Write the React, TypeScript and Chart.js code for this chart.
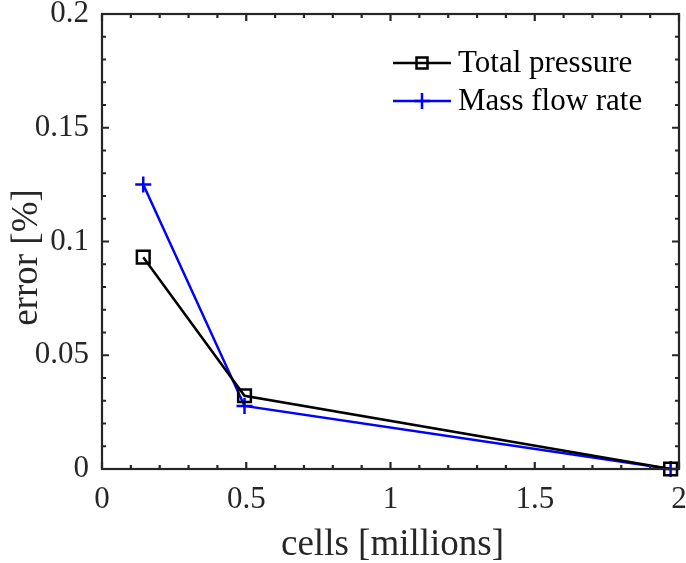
import React, { useEffect, useRef } from "react";
import { Chart, registerables } from "chart.js";

Chart.register(...registerables);

const cellsMillions = [0.143, 0.494, 1.971];
const totalPressureError = [0.0931, 0.0322, 0];
const massFlowRateError = [0.1251, 0.0277, 0];
const xTickValues = [0, 0.5, 1, 1.5, 2];
const yTickValues = [0, 0.05, 0.1, 0.15, 0.2];
const xMinorStep = 0.1;
const yMinorStep = 0.01;
const xTitle = "cells [millions]";
const yTitle = "error [%]";
const seriesNames = ["Total pressure", "Mass flow rate"];
const seriesColors = ["#000000", "#0000ff"];
const seriesMarkers = ["rect", "cross"];

const AXIS = "#262626";
const FONT = "'Liberation Serif', 'Times New Roman', serif";

const fmt = (v: number) => String(parseFloat(v.toFixed(4)));

const matlabPlugin = {
  id: "matlabAxes",
  afterDraw(chart: any) {
    const { ctx, chartArea: a, scales } = chart;
    const xs = scales.x;
    const ys = scales.y;
    ctx.save();
    ctx.strokeStyle = AXIS;
    ctx.lineWidth = 2.2;
    ctx.lineCap = "butt";
    const isMajor = (v: number, arr: number[]) => arr.some((t) => Math.abs(t - v) < 1e-9);
    const nx = Math.round((xs.max - xs.min) / xMinorStep);
    for (let i = 0; i <= nx; i++) {
      const v = xs.min + i * xMinorStep;
      const px = xs.getPixelForValue(v);
      const len = isMajor(v, xTickValues) ? 7 : 4;
      ctx.beginPath();
      ctx.moveTo(px, a.bottom);
      ctx.lineTo(px, a.bottom - len);
      ctx.moveTo(px, a.top);
      ctx.lineTo(px, a.top + len);
      ctx.stroke();
    }
    const ny = Math.round((ys.max - ys.min) / yMinorStep);
    for (let i = 0; i <= ny; i++) {
      const v = ys.min + i * yMinorStep;
      const py = ys.getPixelForValue(v);
      const len = isMajor(v, yTickValues) ? 7 : 4;
      ctx.beginPath();
      ctx.moveTo(a.left, py);
      ctx.lineTo(a.left + len, py);
      ctx.moveTo(a.right, py);
      ctx.lineTo(a.right - len, py);
      ctx.stroke();
    }
    ctx.lineCap = "square";
    ctx.strokeRect(a.left, a.top, a.right - a.left, a.bottom - a.top);

    // axis titles
    ctx.fillStyle = AXIS;
    ctx.font = `37px ${FONT}`;
    ctx.textAlign = "center";
    ctx.textBaseline = "alphabetic";
    ctx.fillText(xTitle, (a.left + a.right) / 2 + 2, 555);
    ctx.save();
    ctx.translate(37, (a.top + a.bottom) / 2 + 16);
    ctx.rotate(-Math.PI / 2);
    ctx.fillText(yTitle, 0, 0);
    ctx.restore();

    // legend
    const lx0 = 393;
    const lx1 = 451;
    const rows = [63, 101];
    ctx.font = `31px ${FONT}`;
    ctx.textAlign = "left";
    ctx.textBaseline = "middle";
    seriesNames.forEach((name, i) => {
      const yy = rows[i];
      ctx.strokeStyle = seriesColors[i];
      ctx.lineWidth = 2.5;
      ctx.lineCap = "butt";
      ctx.beginPath();
      ctx.moveTo(lx0, yy);
      ctx.lineTo(lx1, yy);
      ctx.stroke();
      const cx = (lx0 + lx1) / 2;
      ctx.beginPath();
      if (seriesMarkers[i] === "rect") {
        ctx.rect(cx - 5.5, yy - 5.5, 11, 11);
      } else {
        ctx.moveTo(cx - 8, yy);
        ctx.lineTo(cx + 8, yy);
        ctx.moveTo(cx, yy - 8);
        ctx.lineTo(cx, yy + 8);
      }
      ctx.stroke();
      ctx.fillStyle = "#000000";
      ctx.fillText(name, 458, yy + 1);
    });
    ctx.restore();
  },
};

export default function App() {
  const ref = useRef<HTMLCanvasElement | null>(null);
  useEffect(() => {
    document.body.style.margin = "0";
    const canvas = ref.current!;
    const mk = (vals: number[]) => cellsMillions.map((x, i) => ({ x, y: vals[i] }));
    const chart = new Chart(canvas, {
      type: "scatter",
      data: {
        datasets: [
          {
            label: seriesNames[0],
            data: mk(totalPressureError),
            showLine: true,
            borderColor: seriesColors[0],
            backgroundColor: "rgba(0,0,0,0)",
            borderWidth: 2.5,
            pointStyle: "rect",
            pointRadius: 9,
            pointBorderWidth: 2.5,
            pointBorderColor: seriesColors[0],
            pointBackgroundColor: "rgba(0,0,0,0)",
            clip: false,
          } as any,
          {
            label: seriesNames[1],
            data: mk(massFlowRateError),
            showLine: true,
            borderColor: seriesColors[1],
            backgroundColor: "rgba(0,0,0,0)",
            borderWidth: 2.5,
            pointStyle: "cross",
            pointRadius: 8,
            pointBorderWidth: 2.5,
            pointBorderColor: seriesColors[1],
            clip: false,
          } as any,
        ],
      },
      options: {
        responsive: false,
        animation: false,
        events: [],
        layout: { autoPadding: false, padding: { top: 14, right: 7, left: 0, bottom: 0 } },
        plugins: {
          legend: { display: false },
          tooltip: { enabled: false },
        },
        scales: {
          x: {
            type: "linear",
            min: 0,
            max: 2,
            grid: { display: false, drawTicks: false },
            border: { display: false },
            afterBuildTicks: (s: any) => {
              s.ticks = xTickValues.map((v) => ({ value: v }));
            },
            afterFit: (s: any) => {
              s.height = 94;
              s.paddingLeft = 0;
              s.paddingRight = 0;
            },
            ticks: {
              color: AXIS,
              padding: 12,
              maxRotation: 0,
              font: { family: FONT, size: 31 },
              callback: (v: any) => fmt(Number(v)),
            },
          },
          y: {
            type: "linear",
            min: 0,
            max: 0.2,
            grid: { display: false, drawTicks: false },
            border: { display: false },
            afterBuildTicks: (s: any) => {
              s.ticks = yTickValues.map((v) => ({ value: v }));
            },
            afterFit: (s: any) => {
              s.width = 102;
              s.paddingTop = 0;
              s.paddingBottom = 0;
            },
            ticks: {
              color: AXIS,
              padding: 13,
              font: { family: FONT, size: 31 },
              callback: (v: any) => fmt(Number(v)),
            },
          },
        },
      },
      plugins: [matlabPlugin],
    });
    return () => chart.destroy();
  }, []);
  return (
    <div style={{ width: 686, height: 563, background: "#ffffff" }}>
      <canvas ref={ref} width={686} height={563} style={{ display: "block" }} />
    </div>
  );
}
